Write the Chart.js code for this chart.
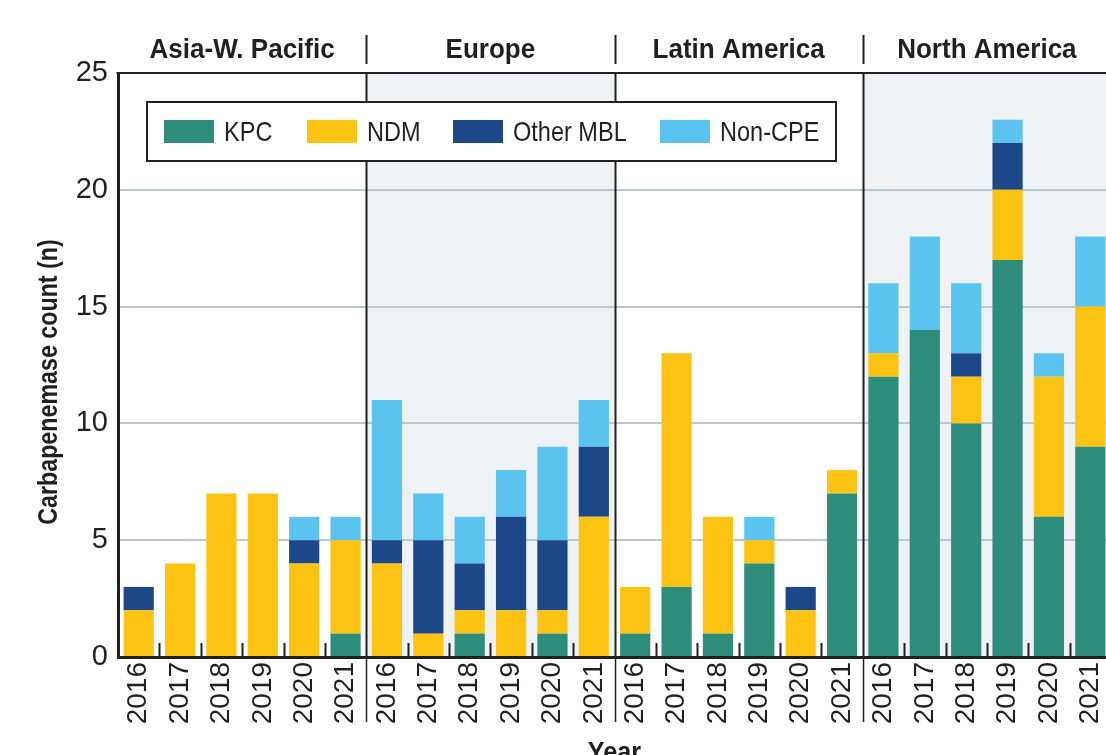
<!DOCTYPE html>
<html>
<head>
<meta charset="utf-8">
<script src="https://cdn.jsdelivr.net/npm/chart.js@4.4.0/dist/chart.umd.min.js"></script>
<style>
    html, body { margin: 0; padding: 0; background: #fff; overflow: hidden; }
    #wrap { position: relative; width: 1130px; height: 790px; }
</style>
</head>
<body>
<div id="wrap"><canvas id="cpChart"></canvas></div>
<script>
// ---------------- data ----------------
const regions = ['Asia-W. Pacific', 'Europe', 'Latin America', 'North America'];
const years = ['2016', '2017', '2018', '2019', '2020', '2021'];

// one value per year, region blocks in the same order as regions
const kpc    = [0, 0, 0, 0, 0, 1,   0, 0, 1, 0, 1, 0,   1, 3, 1, 4, 0, 7,   12, 14, 10, 17, 6, 9];
const ndm    = [2, 4, 7, 7, 4, 4,   4, 1, 1, 2, 1, 6,   2, 10, 5, 1, 2, 1,  1, 0, 2, 3, 6, 6];
const othMbl = [1, 0, 0, 0, 1, 0,   1, 4, 2, 4, 3, 3,   0, 0, 0, 0, 1, 0,   0, 0, 1, 2, 0, 0];
const nonCpe = [0, 0, 0, 0, 1, 1,   6, 2, 2, 2, 4, 2,   0, 0, 0, 1, 0, 0,   3, 4, 3, 1, 1, 3];
const yTicks = [0, 5, 10, 15, 20, 25];

const labels = regions.flatMap(() => years);

const FAM = "'Liberation Sans', Arial, sans-serif";
const INK = '#231f20';

Chart.defaults.font.family = FAM;
Chart.defaults.color = INK;

// the original uses a condensed face, squeeze our own text a bit
function narrowText(ctx, text, x, y, squeeze) {
    ctx.fillText(text, x, y, ctx.measureText(text).width * squeeze);
}

// ---------------- decorations: shading, separators, headers, legend box ----------------
function groupEdges(x) {
    // pixel x of the boundaries between region blocks
    const per = years.length;
    const step = x.getPixelForValue(1) - x.getPixelForValue(0);
    const out = [];
    for (let g = 0; g <= regions.length; g++) {
        out.push(x.getPixelForValue(g * per) - step / 2);
    }
    return out;
}

const groupDecor = {
    id: 'groupDecor',
    beforeDraw(chart) {
        const { ctx, chartArea: a, scales: { x } } = chart;
        const edges = groupEdges(x);
        ctx.save();
        ctx.fillStyle = '#eef2f5';
        [1, 3].forEach(g => {
            ctx.fillRect(edges[g], a.top, edges[g + 1] - edges[g], a.bottom - a.top);
        });
        ctx.restore();
    },
    afterDraw(chart) {
        const { ctx, chartArea: a, scales: { x } } = chart;
        const edges = groupEdges(x);
        const step = x.getPixelForValue(1) - x.getPixelForValue(0);
        ctx.save();
        ctx.strokeStyle = INK;

        // top frame line
        ctx.lineWidth = 2;
        ctx.beginPath();
        ctx.moveTo(a.left - 1.5, a.top);
        ctx.lineTo(a.right, a.top);
        ctx.stroke();

        // region separators (header, plot, under the axis)
        for (let g = 1; g < regions.length; g++) {
            const px = Math.round(edges[g]) + 0.5;
            ctx.lineWidth = 2;
            ctx.beginPath();
            ctx.moveTo(px, a.top);
            ctx.lineTo(px, a.bottom);
            ctx.moveTo(px, 35);
            ctx.lineTo(px, 64);
            ctx.stroke();
            ctx.lineWidth = 1.5;
            ctx.beginPath();
            ctx.moveTo(px, a.bottom + 2);
            ctx.lineTo(px, a.bottom + 65);
            ctx.stroke();
        }

        // small inner ticks between years
        ctx.lineWidth = 2;
        ctx.beginPath();
        labels.forEach((l, i) => {
            if (i % years.length === 0) return;
            const px = Math.round(x.getPixelForValue(i) - step / 2) + 0.5;
            ctx.moveTo(px, a.bottom - 14);
            ctx.lineTo(px, a.bottom);
        });
        ctx.stroke();

        // region headers
        ctx.fillStyle = INK;
        ctx.font = 'bold 28px ' + FAM;
        ctx.textAlign = 'center';
        ctx.textBaseline = 'alphabetic';
        regions.forEach((r, g) => {
            narrowText(ctx, r, (edges[g] + edges[g + 1]) / 2, 58, 0.93);
        });

        // legend box
        ctx.fillStyle = '#fff';
        ctx.fillRect(147, 102, 689, 59);
        ctx.lineWidth = 2;
        ctx.strokeRect(147, 102, 689, 59);
        const swX = [164, 307, 453, 660];
        ctx.font = '28px ' + FAM;
        ctx.textAlign = 'left';
        chart.data.datasets.forEach((ds, i) => {
            ctx.fillStyle = ds.backgroundColor;
            ctx.fillRect(swX[i], 120, 50, 23);
            ctx.fillStyle = INK;
            narrowText(ctx, ds.label, swX[i] + 60, 141, 0.84);
        });

        // axis titles
        ctx.font = 'bold 28px ' + FAM;
        ctx.textAlign = 'center';
        narrowText(ctx, 'Year', (a.left + a.right) / 2, 761, 0.9);
        ctx.translate(57, 382);
        ctx.rotate(-Math.PI / 2);
        narrowText(ctx, 'Carbapenemase count (n)', 0, 0, 0.83);
        ctx.restore();
    }
};

// ---------------- chart ----------------
const ctx = document.getElementById('cpChart');

new Chart(ctx, {
    type: 'bar',
    data: {
        labels: labels,
        datasets: [
            { label: 'KPC', data: kpc, backgroundColor: '#2e8c7b' },
            { label: 'NDM', data: ndm, backgroundColor: '#fdc313' },
            { label: 'Other MBL', data: othMbl, backgroundColor: '#1c4889' },
            { label: 'Non-CPE', data: nonCpe, backgroundColor: '#5bc3f0' }
        ]
    },
    options: {
        responsive: true,
        maintainAspectRatio: false,
        animation: false,
        layout: { padding: { top: 73, right: 19, left: 0, bottom: 0 } },
        datasets: {
            bar: { categoryPercentage: 1, barPercentage: 0.73, borderWidth: 0 }
        },
        scales: {
            x: {
                stacked: true,
                offset: true,
                grid: { display: false, drawTicks: false },
                border: { display: true, color: INK, width: 3 },
                ticks: {
                    autoSkip: false,
                    maxRotation: 90,
                    minRotation: 90,
                    padding: 5,
                    color: INK,
                    font: { size: 28 }
                },
                afterFit(scale) { scale.height = 133; }
            },
            y: {
                stacked: true,
                min: yTicks[0],
                max: yTicks[yTicks.length - 1],
                afterBuildTicks(scale) {
                    scale.ticks = yTicks.map(v => ({ value: v }));
                },
                grid: {
                    drawTicks: false,
                    lineWidth: 2,
                    color: c => (c.tick && (c.tick.value === 0 || c.tick.value === 25)) ? 'rgba(0,0,0,0)' : '#b8c7d2'
                },
                border: { display: true, color: INK, width: 3 },
                ticks: {
                    padding: 10,
                    color: INK,
                    font: { size: 29 }
                },
                afterFit(scale) { scale.width = 118; }
            }
        },
        plugins: {
            legend: { display: false },
            tooltip: { enabled: false }
        }
    },
    plugins: [groupDecor]
});
</script>
</body>
</html>
